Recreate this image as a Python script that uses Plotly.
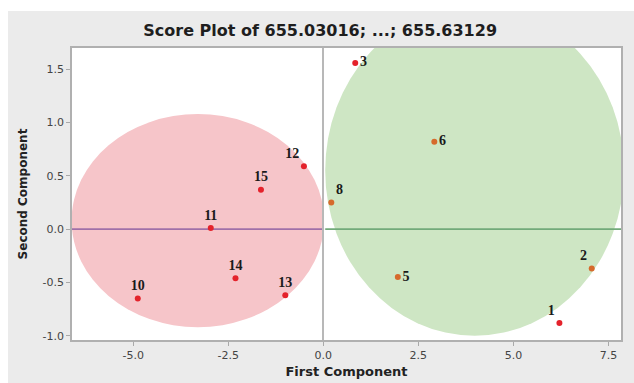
import plotly.graph_objects as go

# ---- data ----
point_labels = ["1", "2", "3", "5", "6", "8", "10", "11", "12", "13", "14", "15"]
pc1 = [6.21, 7.06, 0.84, 1.96, 2.92, 0.21, -4.88, -2.96, -0.51, -1.00, -2.31, -1.64]
pc2 = [-0.88, -0.37, 1.56, -0.45, 0.82, 0.25, -0.65, 0.01, 0.59, -0.62, -0.46, 0.37]
point_group = ["red", "orange", "red", "orange", "orange", "orange",
               "red", "red", "red", "red", "red", "red"]
label_pos = ["top left", "top left", "middle right", "middle right", "middle right",
             "top right", "top center", "top center", "top left", "top center",
             "top center", "top center"]

# cluster ellipses (center x, center y, radius x, radius y)
ell_cx = [-3.30, 3.98]
ell_cy = [0.08, 0.55]
ell_rx = [3.32, 3.93]
ell_ry = [1.00, 1.55]
ell_fill = ["#f6c5c9", "#cee6c4"]
ell_line = ["#a070a8", "#72aa7a"]

x_ticks = [-5.0, -2.5, 0.0, 2.5, 5.0, 7.5]
y_ticks = [-1.0, -0.5, 0.0, 0.5, 1.0, 1.5]

marker_colors = {"red": "#e4222b", "orange": "#d66a2c"}

W, H = 634, 383
ML, MR, MT, MB = 72, 13, 48, 43
pw, ph = W - ML - MR, H - MT - MB

fig = go.Figure()

shapes = []
# white strips on top and left of the grey panel
shapes.append(dict(type="rect", xref="paper", yref="paper", x0=-ML / pw, x1=1 + MR / pw,
                   y0=1 + (MT - 11) / ph, y1=1 + MT / ph + 0.01, fillcolor="white",
                   line=dict(width=0), layer="below"))
shapes.append(dict(type="rect", xref="paper", yref="paper", x0=-ML / pw - 0.01, x1=-(ML - 8) / pw,
                   y0=-MB / ph - 0.01, y1=1 + MT / ph + 0.01, fillcolor="white",
                   line=dict(width=0), layer="below"))
for cx, cy, rx, ry, fc in zip(ell_cx, ell_cy, ell_rx, ell_ry, ell_fill):
    shapes.append(dict(type="circle", xref="x", yref="y", x0=cx - rx, x1=cx + rx,
                       y0=cy - ry, y1=cy + ry, fillcolor=fc, line=dict(width=0),
                       layer="below"))
for cx, rx, lc in zip(ell_cx, ell_rx, ell_line):
    shapes.append(dict(type="line", xref="x", yref="y", x0=cx - rx, x1=cx + rx,
                       y0=0, y1=0, line=dict(color=lc, width=1.6), layer="below"))

fig.add_trace(go.Scatter(
    x=pc1, y=pc2, mode="markers+text",
    text=point_labels, textposition=label_pos,
    textfont=dict(family="Liberation Serif", size=14, color="#1a1a1a", weight="bold"),
    marker=dict(size=6, color=[marker_colors[g] for g in point_group]),
    cliponaxis=False, showlegend=False, hoverinfo="skip"))

axis_common = dict(showgrid=False, showline=True, mirror=True, linecolor="#b0b0b0",
                   linewidth=1.5, ticks="outside", ticklen=4, tickcolor="#a9a9a9",
                   automargin=False,
                   tickfont=dict(family="DejaVu Sans", size=11, color="#444444"))

fig.update_layout(
    width=W, height=H,
    margin=dict(l=ML, r=MR, t=MT, b=MB, autoexpand=False),
    paper_bgcolor="#ebebeb", plot_bgcolor="white",
    shapes=shapes,
    title=dict(text="<b>Score Plot of 655.03016; ...; 655.63129</b>",
               x=0.505, xref="container", xanchor="center",
               y=1 - 30 / H, yref="container", yanchor="middle",
               font=dict(family="DejaVu Sans", size=16, color="#1e1e1e")),
    xaxis=dict(range=[-6.61, 7.83], tickvals=x_ticks, ticktext=[f"{v:.1f}" for v in x_ticks],
               zeroline=True, zerolinecolor="#b8b8b8", zerolinewidth=1.5,
               title=dict(text="<b>First Component</b>", standoff=6,
                          font=dict(family="DejaVu Sans", size=13, color="#222222")),
               **axis_common),
    yaxis=dict(range=[-1.04, 1.70], tickvals=y_ticks, ticktext=[f"{v:.1f}" for v in y_ticks],
               zeroline=False,
               title=dict(text="<b>Second Component</b>", standoff=12,
                          font=dict(family="DejaVu Sans", size=12, color="#222222")),
               **axis_common),
)

fig.write_html("out.html")
